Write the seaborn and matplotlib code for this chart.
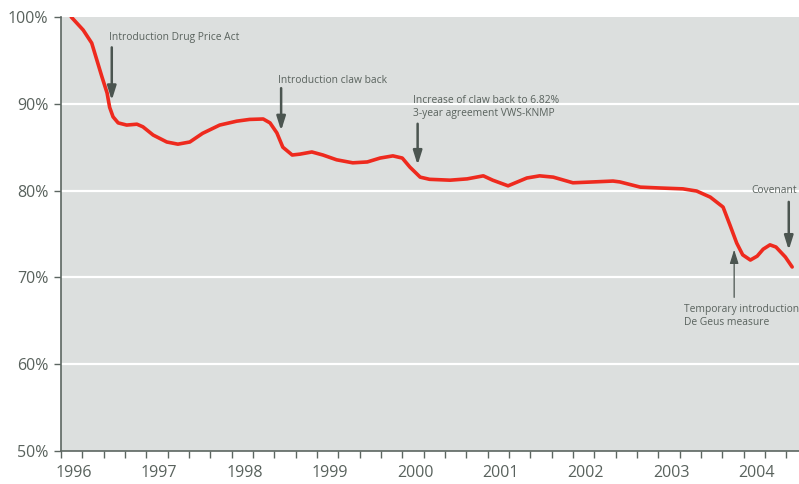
import numpy as np
import pandas as pd
import seaborn as sns
import matplotlib.pyplot as plt

# index of drug prices (fractional years, percent)
years = [1995.97, 1996.11, 1996.21, 1996.27, 1996.33, 1996.39, 1996.42, 1996.46,
         1996.52, 1996.62, 1996.74, 1996.81, 1996.93, 1997.09, 1997.22, 1997.36,
         1997.51, 1997.71, 1997.91, 1998.06, 1998.22, 1998.30, 1998.38, 1998.45,
         1998.56, 1998.65, 1998.79, 1998.92, 1999.08, 1999.27, 1999.44, 1999.59,
         1999.74, 1999.85, 1999.94, 2000.06, 2000.17, 2000.41, 2000.61, 2000.80,
         2000.91, 2001.09, 2001.31, 2001.46, 2001.62, 2001.85, 2002.09, 2002.32,
         2002.40, 2002.64, 2002.87, 2003.14, 2003.30, 2003.46, 2003.61, 2003.69,
         2003.77, 2003.84, 2003.93, 2004.01, 2004.08, 2004.16, 2004.23, 2004.34,
         2004.42]
index_pct = [100.0, 98.5, 97.0, 95.05, 93.1, 91.25, 89.6, 88.5,
             87.8, 87.55, 87.65, 87.35, 86.4, 85.6, 85.35, 85.6,
             86.6, 87.55, 88.0, 88.2, 88.25, 87.8, 86.65, 85.0,
             84.1, 84.2, 84.45, 84.1, 83.55, 83.2, 83.3, 83.75,
             84.0, 83.75, 82.7, 81.55, 81.3, 81.2, 81.35, 81.7,
             81.2, 80.55, 81.45, 81.7, 81.55, 80.9, 81.0, 81.1,
             81.0, 80.4, 80.3, 80.2, 79.95, 79.25, 78.1, 76.05,
             73.95, 72.6, 72.0, 72.45, 73.25, 73.75, 73.5, 72.35,
             71.2]

year_ticks = [1996, 1997, 1998, 1999, 2000, 2001, 2002, 2003, 2004]
pct_ticks = [50, 60, 70, 80, 90, 100]

notes = ["Introduction Drug Price Act", "Introduction claw back",
         "Increase of claw back to 6.82%\n3-year agreement VWS-KNMP",
         "Covenant", "Temporary introduction\nDe Geus measure"]

txt = "#59625d"
dark = "#4b5550"

sns.set_theme(style="white", rc={"axes.facecolor": "#dcdfde",
                                 "axes.edgecolor": "#5c6661"})
plt.rcParams["font.family"] = ["Open Sans", "DejaVu Sans"]

fig = plt.figure(figsize=(7.99, 4.84), dpi=100)
ax = fig.add_axes([61 / 799, 1 - 451 / 484, 1 - 61 / 799, (451 - 17) / 484])

df = pd.DataFrame({"year": years, "index": index_pct})
sns.lineplot(data=df, x="year", y="index", ax=ax, color="#ee2a1e", lw=2.6,
             solid_joinstyle="round", solid_capstyle="round", zorder=3)

ax.set_xlim(1995.85, 2004.5)
ax.set_ylim(50, 100)
ax.set_xlabel("")
ax.set_ylabel("")

for v in pct_ticks[1:-1]:
    ax.axhline(v, color="white", lw=1.6, zorder=1)

ax.set_yticks(pct_ticks)
ax.set_yticklabels([f"{v}%" for v in pct_ticks], color=txt, fontsize=11.5)
ax.tick_params(axis="y", length=5, width=1, color="#5c6661", left=True, pad=4)

ax.set_xticks(year_ticks)
ax.set_xticklabels([str(y) for y in year_ticks], color=txt, fontsize=11.5)
ax.set_xticks(np.arange(1995.85, 2004.5, 0.25), minor=True)
ax.tick_params(axis="x", which="major", length=0, pad=10)
ax.tick_params(axis="x", which="minor", length=5, width=1, color="#5c6661", bottom=True)

for s in ["top", "right"]:
    ax.spines[s].set_visible(False)
ax.spines["left"].set_linewidth(1.2)
ax.spines["bottom"].set_linewidth(1.2)

arrow = dict(arrowstyle="-|>,head_length=0.7,head_width=0.22", color=dark,
             lw=1.8, shrinkA=0, shrinkB=0)
thin = dict(arrow, lw=0.9)

def note(label, x, y, tx, ty, ha="left", props=arrow):
    ax.annotate("", xy=(x, y[1]), xytext=(x, y[0]), arrowprops=props, zorder=4)
    ax.text(tx, ty, label, ha=ha, va="center", fontsize=7.4, color=txt,
            linespacing=1.25)

note(notes[0], 1996.445, (96.5, 90.4), 1996.41, 97.6)
note(notes[1], 1998.43, (91.8, 86.9), 1998.39, 92.7)
note(notes[2], 2000.03, (87.7, 82.95), 1999.97, 89.6)
note(notes[3], 2004.38, (78.7, 73.15), 2004.48, 80.0, ha="right")
note(notes[4], 2003.74, (67.7, 73.2), 2003.15, 65.6, props=thin)

fig.savefig("out.png", dpi=100)
